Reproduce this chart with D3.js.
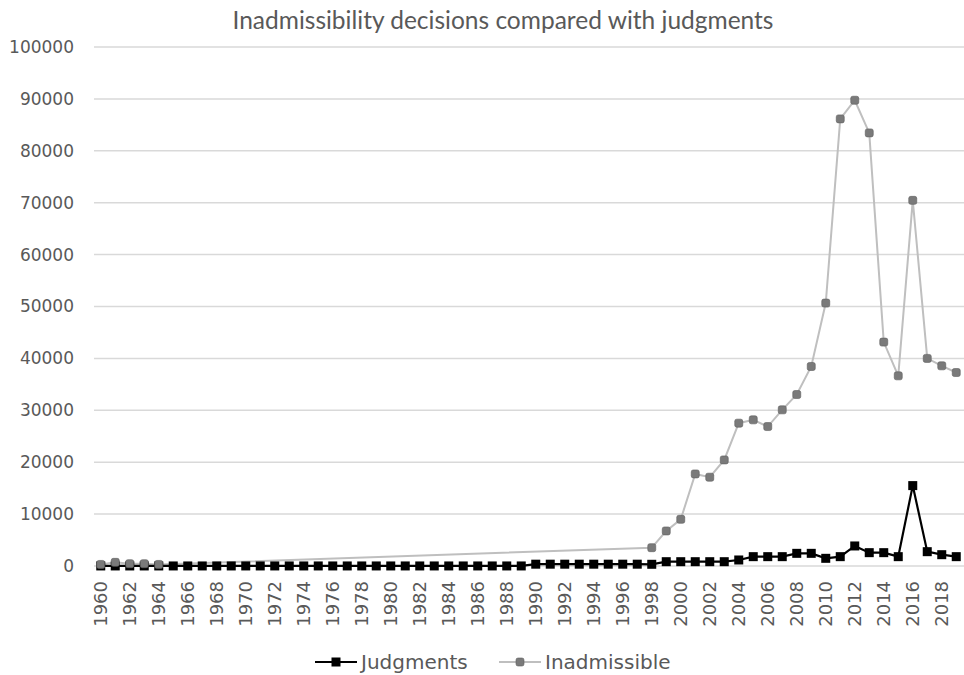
<!DOCTYPE html>
<html>
<head>
<meta charset="utf-8">
<script src="https://cdn.jsdelivr.net/npm/d3@7/dist/d3.min.js"></script>
<style>
  html, body { margin: 0; padding: 0; background: #fff; }
  svg { display: block; }
</style>
</head>
<body>
<svg id="chart" width="964" height="675"></svg>
<script>
// Years on the category axis
const years = d3.range(1960, 2020);

// Judgments per year, 1960–2019
const judgments = [
  10, 10, 10, 10, 10, 10, 10, 10, 10, 10,
  10, 10, 10, 10, 10, 10, 10, 10, 10, 10,
  10, 10, 10, 10, 10, 10, 10, 10, 10, 10,
  350, 350, 350, 350, 350, 350, 350, 350, 330, 830,
  830, 830, 830, 830, 1160, 1800, 1800, 1800, 2440, 2440,
  1480, 1800, 3860, 2570, 2570, 1800, 15490, 2760, 2180, 1800
];

// Inadmissibility decisions per year (no figures for 1965–1997)
const inadmissible = [
  300, 700, 440, 440, 300, null, null, null, null, null,
  null, null, null, null, null, null, null, null, null, null,
  null, null, null, null, null, null, null, null, null, null,
  null, null, null, null, null, null, null, null, 3530, 6750,
  9000, 17740, 17110, 20440, 27520, 28160, 26870, 30090, 33040, 38440,
  50660, 86150, 89740, 83450, 43140, 36640, 70450, 40000, 38570, 37280
];

const yTicks = d3.range(0, 100001, 10000);
const xTickYears = years.filter(y => y % 2 === 0);

const chartTitle = "Inadmissibility decisions compared with judgments";
const seriesNames = ["Judgments", "Inadmissible"];

const textColor = "#595959";
const gridColor = "#d9d9d9";
const judgColor = "#000000";
const inadLine = "#bfbfbf";
const inadMarker = "#7a7a7a";
const axisFont = "'DejaVu Sans', Verdana, sans-serif";

const svg = d3.select("#chart");

const x = d3.scaleBand().domain(years).range([93.5, 963.5]);
const xc = yr => x(yr) + x.bandwidth() / 2;
const y = d3.scaleLinear().domain([0, 100000]).range([566, 47]);

// Title
svg.append("text")
  .attr("x", 503).attr("y", 29)
  .attr("text-anchor", "middle")
  .attr("font-family", "Lato, 'Open Sans', sans-serif")
  .attr("font-size", 24.5)
  .attr("fill", textColor)
  .text(chartTitle);

// Horizontal gridlines
svg.append("g")
  .selectAll("line")
  .data(yTicks)
  .join("line")
  .attr("x1", 94).attr("x2", 964)
  .attr("y1", d => y(d)).attr("y2", d => y(d))
  .attr("stroke", gridColor)
  .attr("stroke-width", 1.5);

// Y axis labels
const yAxis = d3.axisLeft(y).tickValues(yTicks).tickSize(0).tickPadding(0).tickFormat(d3.format("d"));
svg.append("g")
  .attr("transform", "translate(74,0)")
  .call(yAxis)
  .call(g => g.select(".domain").remove())
  .call(g => g.selectAll("text")
    .attr("font-family", axisFont)
    .attr("font-size", 17)
    .attr("fill", textColor));

// X axis labels, rotated
const xAxis = d3.axisBottom(x).tickValues(xTickYears).tickSize(0).tickPadding(0).tickFormat(d3.format("d"));
svg.append("g")
  .attr("transform", "translate(0,566)")
  .call(xAxis)
  .call(g => g.select(".domain").remove())
  .call(g => g.selectAll("text")
    .attr("font-family", axisFont)
    .attr("font-size", 18)
    .attr("fill", textColor)
    .attr("text-anchor", "end")
    .attr("dy", null)
    .attr("y", 0)
    .attr("transform", "translate(6.5,15) rotate(-90)"));

// Inadmissible series: gaps are bridged by connecting the defined years
const inadPts = years.map((yr, i) => ({ yr, v: inadmissible[i] })).filter(d => d.v !== null);
const line = d3.line().x(d => xc(d.yr)).y(d => y(d.v));

svg.append("path")
  .datum(inadPts)
  .attr("d", line)
  .attr("fill", "none")
  .attr("stroke", inadLine)
  .attr("stroke-width", 2);

// Judgments series
const judgPts = years.map((yr, i) => ({ yr, v: judgments[i] }));
svg.append("path")
  .datum(judgPts)
  .attr("d", line)
  .attr("fill", "none")
  .attr("stroke", judgColor)
  .attr("stroke-width", 2.2);

svg.append("g")
  .selectAll("rect")
  .data(judgPts)
  .join("rect")
  .attr("x", d => xc(d.yr) - 4.5)
  .attr("y", d => y(d.v) - 4.5)
  .attr("width", 9).attr("height", 9)
  .attr("fill", judgColor);

svg.append("g")
  .selectAll("rect")
  .data(inadPts)
  .join("rect")
  .attr("x", d => xc(d.yr) - 4)
  .attr("y", d => y(d.v) - 4)
  .attr("width", 8).attr("height", 8)
  .attr("rx", 2)
  .attr("fill", inadMarker)
  .attr("stroke", "#5e5e5e")
  .attr("stroke-width", 0.6);

// Legend
const legend = svg.append("g").attr("font-family", axisFont).attr("font-size", 20).attr("fill", textColor);
const legY = 662;

legend.append("line").attr("x1", 315).attr("x2", 357).attr("y1", legY).attr("y2", legY)
  .attr("stroke", judgColor).attr("stroke-width", 2.2);
legend.append("rect").attr("x", 336 - 4.5).attr("y", legY - 4.5).attr("width", 9).attr("height", 9).attr("fill", judgColor);
legend.append("text").attr("x", 361).attr("y", legY + 7).text(seriesNames[0]);

legend.append("line").attr("x1", 499).attr("x2", 541).attr("y1", legY).attr("y2", legY)
  .attr("stroke", inadLine).attr("stroke-width", 2);
legend.append("rect").attr("x", 520 - 4).attr("y", legY - 4).attr("width", 8).attr("height", 8).attr("rx", 2)
  .attr("fill", inadMarker).attr("stroke", "#5e5e5e").attr("stroke-width", 0.6);
legend.append("text").attr("x", 545).attr("y", legY + 7).text(seriesNames[1]);
</script>
</body>
</html>
